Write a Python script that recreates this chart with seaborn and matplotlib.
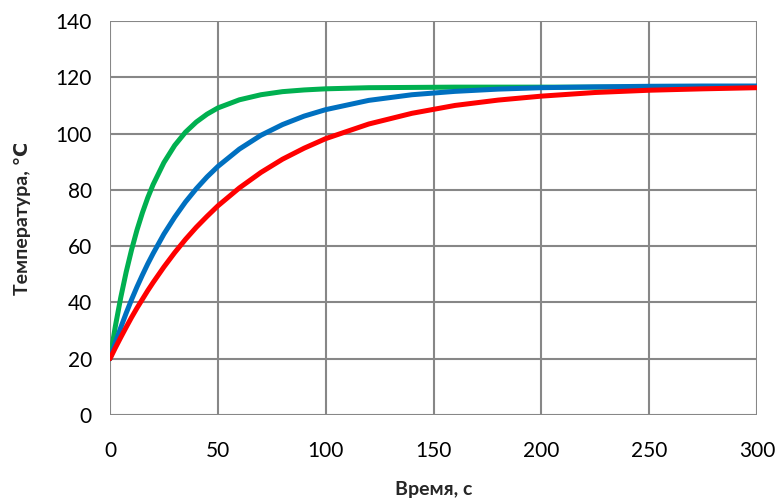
import matplotlib
matplotlib.use("Agg")
import matplotlib.pyplot as plt
import seaborn as sns
import pandas as pd

time_s = [0, 2.5, 5, 7.5, 10, 12.5, 15, 17.5, 20, 25, 30, 35, 40, 45, 50, 60, 70, 80, 90, 100,
          120, 140, 160, 180, 200, 225, 250, 275, 300]
green_T = [20, 31.6, 41.8, 50.8, 58.7, 65.7, 71.8, 77.2, 81.9, 89.7, 95.8, 100.5, 104.1, 106.9, 109.1,
           112.0, 113.8, 114.9, 115.5, 115.9, 116.3, 116.4, 116.5, 116.5, 116.5, 116.5, 116.5, 116.5, 116.5]
blue_T = [20, 25.7, 31.1, 36.2, 41.0, 45.5, 49.7, 53.7, 57.4, 64.3, 70.3, 75.7, 80.4, 84.6, 88.3,
          94.5, 99.4, 103.2, 106.2, 108.5, 111.8, 113.8, 115.0, 115.8, 116.3, 116.6, 116.8, 116.9, 116.9]
red_T = [20, 23.9, 27.6, 31.2, 34.7, 38.0, 41.1, 44.2, 47.1, 52.6, 57.7, 62.4, 66.7, 70.6, 74.3,
         80.7, 86.2, 90.9, 94.8, 98.2, 103.4, 107.2, 110.0, 111.9, 113.3, 114.6, 115.4, 115.9, 116.3]

x_ticks = [0, 50, 100, 150, 200, 250, 300]
y_ticks = [0, 20, 40, 60, 80, 100, 120, 140]
x_label = "Время, с"
y_label = "Температура, ℃"

series = {"green": green_T, "blue": blue_T, "red": red_T}
palette = {"green": "#00B050", "blue": "#0070C0", "red": "#FF0000"}

rows = []
for name, vals in series.items():
    for t, v in zip(time_s, vals):
        rows.append({"t": t, "T": v, "s": name})
df = pd.DataFrame(rows)

sns.set_theme(style="white")
plt.rcParams["font.family"] = ["Lato", "DejaVu Sans"]

fig = plt.figure(figsize=(7.77, 5.01), dpi=100)
ax = fig.add_axes([110 / 777, 1 - 415 / 501, (757 - 110) / 777, (415 - 21) / 501])

sns.lineplot(data=df, x="t", y="T", hue="s", palette=palette, linewidth=3.6,
             legend=False, ax=ax, zorder=3)

ax.set_xlim(0, 300)
ax.set_ylim(0, 140)
ax.set_xticks(x_ticks)
ax.set_yticks(y_ticks)
ax.grid(True, color="#878787", linewidth=1.5, zorder=0)
for sp in ax.spines.values():
    sp.set_visible(False)
ax.tick_params(axis="both", which="both", width=1.5, color="#878787",
               labelsize=15, labelcolor="black")
ax.tick_params(axis="x", length=5, pad=14)
ax.tick_params(axis="y", length=7, pad=6)
ax.set_xlabel(x_label, fontsize=14, fontweight="bold", labelpad=14)
ax.set_ylabel(y_label, fontsize=14, fontweight="bold", labelpad=18)

fig.savefig("out.png", dpi=100)
